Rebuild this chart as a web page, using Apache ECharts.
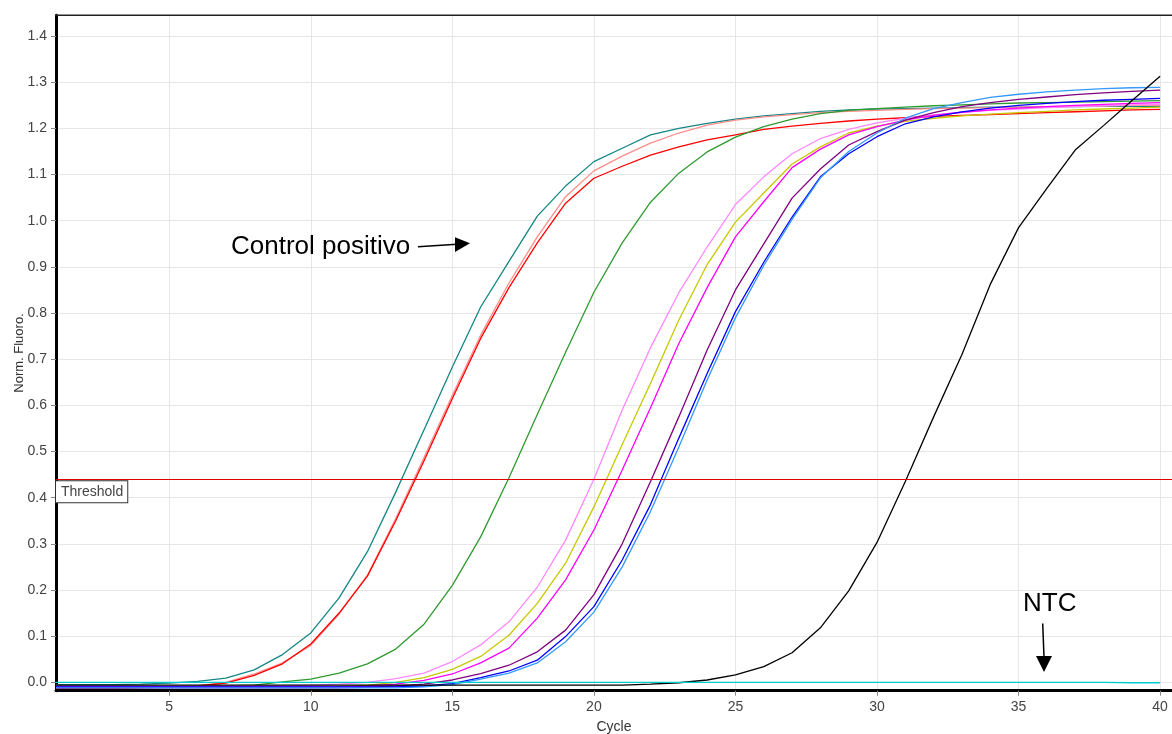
<!DOCTYPE html>
<html><head><meta charset="utf-8">
<script src="https://cdn.jsdelivr.net/npm/echarts@6/dist/echarts.min.js"></script>
<style>html,body{margin:0;padding:0;background:#fff}#c{width:1172px;height:734px}</style>
</head><body><div id="c"></div>
<script>
const cycles = [1,2,3,4,5,6,7,8,9,10,11,12,13,14,15,16,17,18,19,20,21,22,23,24,25,26,27,28,29,30,31,32,33,34,35,36,37,38,39,40];
const xTicks = [5,10,15,20,25,30,35,40];
const yTicks = [0,0.1,0.2,0.3,0.4,0.5,0.6,0.7,0.8,0.9,1.0,1.1,1.2,1.3,1.4];
const thresholdValue = 0.44;

const teal = [-0.005,-0.005,-0.005,-0.004,-0.002,0.002,0.009,0.027,0.06,0.107,0.183,0.283,0.412,0.547,0.683,0.813,0.912,1.01,1.075,1.128,1.157,1.186,1.2,1.211,1.22,1.227,1.232,1.237,1.24,1.242,1.243,1.244,1.245,1.246,1.246,1.247,1.247,1.248,1.248,1.248];
const salmon = [-0.012,-0.012,-0.012,-0.011,-0.01,-0.007,0.0,0.018,0.042,0.08,0.148,0.232,0.355,0.487,0.622,0.752,0.865,0.965,1.052,1.108,1.14,1.168,1.19,1.207,1.218,1.225,1.23,1.234,1.237,1.239,1.241,1.243,1.244,1.245,1.246,1.247,1.248,1.249,1.25,1.25];
const red = [-0.013,-0.013,-0.013,-0.012,-0.011,-0.008,-0.002,0.015,0.04,0.083,0.15,0.23,0.35,0.48,0.615,0.745,0.855,0.952,1.038,1.092,1.118,1.142,1.16,1.175,1.186,1.198,1.205,1.211,1.216,1.22,1.223,1.226,1.228,1.23,1.232,1.234,1.236,1.238,1.24,1.241];
const green = [-0.009,-0.009,-0.009,-0.009,-0.009,-0.008,-0.008,-0.006,0.001,0.007,0.02,0.04,0.072,0.126,0.21,0.315,0.443,0.58,0.715,0.845,0.952,1.04,1.103,1.149,1.181,1.204,1.22,1.232,1.239,1.243,1.246,1.249,1.251,1.253,1.255,1.256,1.257,1.258,1.259,1.26];
const lightPink = [-0.008,-0.008,-0.008,-0.008,-0.008,-0.008,-0.008,-0.007,-0.007,-0.006,-0.004,0.0,0.008,0.02,0.045,0.081,0.131,0.206,0.308,0.44,0.59,0.725,0.844,0.943,1.035,1.095,1.145,1.178,1.198,1.212,1.222,1.229,1.235,1.239,1.242,1.245,1.247,1.249,1.251,1.252];
const yellow = [-0.01,-0.01,-0.01,-0.01,-0.01,-0.01,-0.01,-0.01,-0.01,-0.01,-0.009,-0.006,0.0,0.01,0.028,0.056,0.102,0.171,0.258,0.38,0.515,0.648,0.785,0.905,0.997,1.06,1.123,1.16,1.19,1.205,1.215,1.222,1.227,1.231,1.234,1.237,1.24,1.242,1.244,1.246];
const magenta = [-0.01,-0.01,-0.01,-0.01,-0.01,-0.01,-0.01,-0.01,-0.01,-0.01,-0.01,-0.008,-0.004,0.004,0.018,0.042,0.074,0.139,0.222,0.33,0.46,0.595,0.734,0.855,0.965,1.041,1.115,1.155,1.186,1.204,1.218,1.228,1.235,1.24,1.244,1.247,1.25,1.252,1.254,1.256];
const purple = [-0.012,-0.012,-0.012,-0.012,-0.012,-0.012,-0.012,-0.012,-0.012,-0.012,-0.012,-0.011,-0.008,-0.004,0.005,0.019,0.037,0.066,0.113,0.19,0.3,0.435,0.575,0.72,0.85,0.95,1.049,1.112,1.164,1.193,1.218,1.234,1.247,1.256,1.263,1.268,1.273,1.277,1.28,1.283];
const blue = [-0.01,-0.01,-0.01,-0.01,-0.01,-0.01,-0.01,-0.01,-0.01,-0.01,-0.01,-0.01,-0.01,-0.008,-0.003,0.01,0.0245,0.048,0.099,0.164,0.265,0.385,0.529,0.669,0.803,0.91,1.008,1.095,1.145,1.182,1.21,1.225,1.236,1.244,1.25,1.254,1.258,1.261,1.263,1.265];
const lightBlue = [-0.012,-0.012,-0.012,-0.012,-0.012,-0.012,-0.012,-0.012,-0.012,-0.012,-0.012,-0.012,-0.012,-0.01,-0.005,0.007,0.02,0.042,0.088,0.152,0.25,0.37,0.51,0.655,0.79,0.903,1.003,1.093,1.15,1.19,1.222,1.243,1.256,1.267,1.274,1.279,1.283,1.286,1.288,1.289];
const black = [-0.006,-0.006,-0.006,-0.006,-0.006,-0.006,-0.006,-0.006,-0.006,-0.006,-0.006,-0.006,-0.006,-0.006,-0.006,-0.006,-0.006,-0.006,-0.006,-0.006,-0.006,-0.004,-0.001,0.005,0.016,0.034,0.064,0.118,0.198,0.303,0.435,0.575,0.71,0.862,0.985,1.07,1.153,1.206,1.26,1.313];
const ntc = [0,0,0,0,0,0,0,0,0,0,0,0,0,0,0,0,0,0,0,0,0,0,0,0,0,0,0,0,0,0,0,0,0,0,0,0,0,0,-0.001,-0.001];

const seriesDefs = [
  {name:'S1', color:'#158686', values:teal},
  {name:'S2', color:'#ff8c8c', values:salmon},
  {name:'S3', color:'#ff0000', values:red},
  {name:'S4', color:'#2f9a2f', values:green},
  {name:'S5', color:'#ff88ff', values:lightPink},
  {name:'S6', color:'#c8c800', values:yellow},
  {name:'S7', color:'#ff00ff', values:magenta},
  {name:'S8', color:'#800080', values:purple},
  {name:'S9', color:'#0000ff', values:blue},
  {name:'S10', color:'#3399ff', values:lightBlue},
  {name:'S11', color:'#000000', values:black},
  {name:'NTC', color:'#00cccc', values:ntc}
];

const FONT = '"Liberation Sans", Arial, sans-serif';
const chart = echarts.init(document.getElementById('c'), null, {renderer:'canvas'});

const series = seriesDefs.map((s, i) => ({
  name: s.name,
  type: 'line',
  symbol: 'none',
  showSymbol: false,
  animation: false,
  lineStyle: {color: s.color, width: 1.3},
  itemStyle: {color: s.color},
  data: cycles.map((c, j) => [c, s.values[j]]),
  z: 3
}));

series.push({
  type: 'line',
  data: [],
  animation: false,
  z: 2,
  markLine: {
    silent: true,
    animation: false,
    symbol: ['none','none'],
    lineStyle: {color: '#e00000', width: 1, type: 'solid'},
    label: {
      show: true,
      position: 'insideStartBottom',
      formatter: 'Threshold',
      distance: [0, 2],
      backgroundColor: '#fff',
      borderColor: '#333',
      borderWidth: 1,
      padding: [4, 4, 3, 5],
      color: '#444',
      fontSize: 14,
      fontFamily: FONT
    },
    data: [{yAxis: thresholdValue}]
  }
});

chart.setOption({
  backgroundColor: '#fff',
  animation: false,
  grid: {left: 56, right: 0, top: 15.3, bottom: 43.3, containLabel: false, outerBoundsMode: 'none'},
  xAxis: {
    type: 'value', min: 1, max: 40.42,
    name: 'Cycle', nameLocation: 'middle', nameGap: 29,
    nameTextStyle: {color: '#333', fontSize: 14, fontFamily: FONT},
    axisLine: {onZero: false, lineStyle: {color: '#000', width: 3}},
    axisTick: {show: true, customValues: xTicks, length: 5, lineStyle: {color: '#888'}},
    axisLabel: {customValues: xTicks, color: '#444', fontSize: 14, fontFamily: FONT, margin: 9},
    splitLine: {show: true, lineStyle: {color: '#e6e6e6', width: 1}}
  },
  yAxis: {
    type: 'value', min: -0.0182, max: 1.445,
    name: 'Norm. Fluoro.', nameLocation: 'middle', nameGap: 30, nameRotate: 90, nameMoveOverlap: false,
    nameTextStyle: {color: '#333', fontSize: 13, fontFamily: FONT},
    axisLine: {onZero: false, lineStyle: {color: '#000', width: 3}},
    axisTick: {show: true, customValues: yTicks, length: 5, lineStyle: {color: '#888'}},
    axisLabel: {customValues: yTicks, color: '#444', fontSize: 14, fontFamily: FONT, margin: 9,
      formatter: v => v.toFixed(1)},
    splitLine: {show: true, lineStyle: {color: '#e6e6e6', width: 1}}
  },
  graphic: [
    {type: 'line', shape: {x1: 55, y1: 15.3, x2: 1172, y2: 15.3}, style: {stroke: '#222', lineWidth: 1.5}, z: 10},
    {type: 'text', x: 231, y: 247, style: {text: 'Control positivo', font: '26px ' + FONT, fill: '#000', textVerticalAlign: 'middle'}, z: 10},
    {type: 'line', shape: {x1: 418, y1: 246.7, x2: 457, y2: 244.3}, style: {stroke: '#000', lineWidth: 1.5}, z: 10},
    {type: 'polygon', shape: {points: [[470, 243.3], [455, 237.3], [455, 252]]}, style: {fill: '#000'}, z: 10},
    {type: 'text', x: 1023, y: 604, style: {text: 'NTC', font: '26px ' + FONT, fill: '#000', textVerticalAlign: 'middle'}, z: 10},
    {type: 'line', shape: {x1: 1042.7, y1: 623.5, x2: 1044, y2: 657}, style: {stroke: '#000', lineWidth: 1.5}, z: 10},
    {type: 'polygon', shape: {points: [[1044, 672], [1036, 656], [1052, 656]]}, style: {fill: '#000'}, z: 10}
  ],
  series: series
});
</script>
</body></html>
